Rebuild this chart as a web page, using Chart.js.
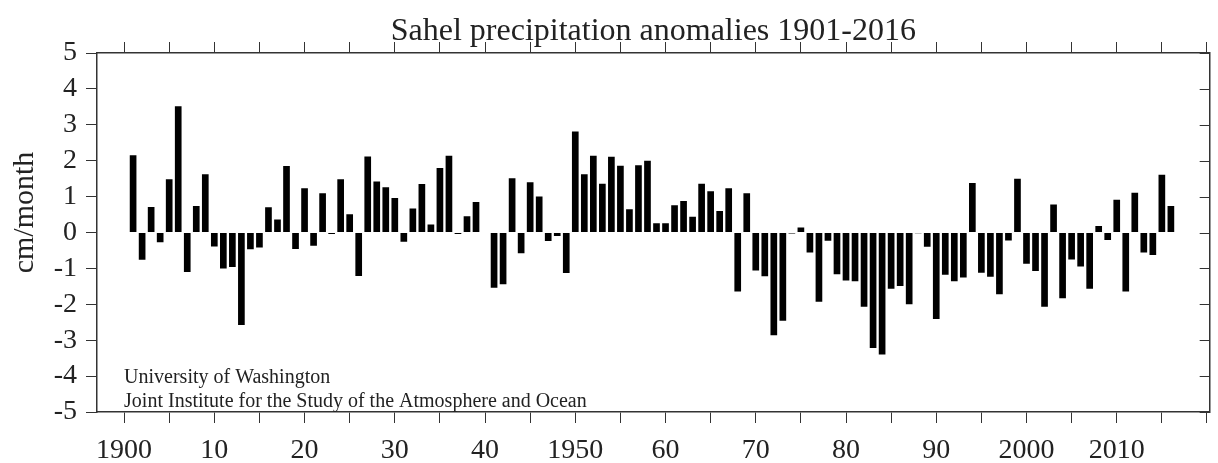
<!DOCTYPE html>
<html>
<head>
<meta charset="utf-8">
<script src="https://cdn.jsdelivr.net/npm/chart.js@4"></script>
<style>
  html, body { margin: 0; padding: 0; background: #fff; }
  #wrap { width: 1218px; height: 463px; }
</style>
</head>
<body>
<div id="wrap"><canvas id="canvasSahel"></canvas></div>
<script>
var titulo = 'Sahel precipitation anomalies 1901-2016';
var creditos = ['University of Washington', 'Joint Institute for the Study of the Atmosphere and Ocean'];
var tituloEjeY = 'cm/month';

// one value per year, 1901 .. 2016 (cm/month)
var anioInicio = 1901;
var anomalias = [
    2.15, -0.76, 0.71, -0.27, 1.48, 3.52, -1.10, 0.74, 1.62, -0.39,
    -1.00, -0.96, -2.58, -0.47, -0.42, 0.70, 0.36, 1.85, -0.46, 1.23,
    -0.37, 1.09, -0.04, 1.48, 0.51, -1.21, 2.12, 1.42, 1.26, 0.96,
    -0.26, 0.67, 1.35, 0.22, 1.80, 2.14, -0.04, 0.45, 0.85, 0.00,
    -1.54, -1.44, 1.51, -0.58, 1.40, 1.00, -0.24, -0.10, -1.13, 2.81,
    1.62, 2.14, 1.36, 2.11, 1.86, 0.65, 1.87, 2.00, 0.26, 0.26,
    0.76, 0.88, 0.44, 1.36, 1.15, 0.60, 1.23, -1.64, 1.09, -1.06,
    -1.22, -2.86, -2.46, -0.03, 0.14, -0.56, -1.93, -0.23, -1.16, -1.34,
    -1.36, -2.07, -3.22, -3.40, -1.57, -1.49, -2.00, -0.02, -0.40, -2.41,
    -1.18, -1.36, -1.25, 1.38, -1.12, -1.23, -1.72, -0.22, 1.50, -0.87,
    -1.07, -2.07, 0.78, -1.83, -0.75, -0.95, -1.57, 0.18, -0.21, 0.91,
    -1.64, 1.11, -0.56, -0.63, 1.61, 0.74
];

var decadas = [1900, 1910, 1920, 1930, 1940, 1950, 1960, 1970, 1980, 1990, 2000, 2010];
var etiquetasDecadas = ['1900', '10', '20', '30', '40', '1950', '60', '70', '80', '90', '2000', '2010'];
var ejeXMin = 1897;
var ejeXMax = 2020.3;

var puntos = [];
for (let i = 0; i < anomalias.length; i++) {
    puntos = [...puntos, { x: anioInicio + i, y: anomalias[i] }];
}

var fuente = '"Liberation Serif", "Times New Roman", serif';
var colorTexto = '#222';
var colorEje = '#333';

// title, y title, credit lines and the inward ticks of the right frame
var textosExtra = {
    id: 'textosExtra',
    afterDraw: function (chart) {
        var ctx = chart.ctx;
        var area = chart.chartArea;
        var sx = chart.scales.x;
        var sy = chart.scales.y;
        ctx.save();
        ctx.fillStyle = colorTexto;
        ctx.font = '32px ' + fuente;
        ctx.textAlign = 'center';
        ctx.textBaseline = 'alphabetic';
        ctx.fillText(titulo, (area.left + area.right) / 2, area.top - 13);

        ctx.save();
        ctx.translate(25, (area.top + area.bottom) / 2 - 20);
        ctx.rotate(-Math.PI / 2);
        ctx.textBaseline = 'middle';
        ctx.font = '30px ' + fuente;
        ctx.fillText(tituloEjeY, 0, 0);
        ctx.restore();

        ctx.font = '20px ' + fuente;
        ctx.textAlign = 'left';
        ctx.textBaseline = 'middle';
        ctx.fillText(creditos[0], sx.getPixelForValue(1900), sy.getPixelForValue(-4.05));
        ctx.fillText(creditos[1], sx.getPixelForValue(1900), sy.getPixelForValue(-4.72));

        ctx.strokeStyle = colorEje;
        ctx.lineWidth = 1;
        sy.ticks.forEach(function (t) {
            var py = Math.round(sy.getPixelForValue(t.value)) + 0.5;
            ctx.beginPath();
            ctx.moveTo(area.right - 10, py);
            ctx.lineTo(area.right, py);
            ctx.stroke();
        });
        ctx.restore();
    }
};

var ctx = document.getElementById('canvasSahel').getContext('2d');
var chartSahel = new Chart(ctx, {
    type: 'bar',
    data: {
        datasets: [{
            label: 'Sahel precipitation anomalies',
            data: puntos,
            backgroundColor: '#000',
            borderWidth: 0,
            barPercentage: 0.74,
            categoryPercentage: 1.0
        }]
    },
    options: {
        responsive: true,
        maintainAspectRatio: false,
        animation: false,
        layout: { padding: { top: 42, right: 5, left: 0, bottom: 0 } },
        plugins: {
            legend: { display: false },
            tooltip: { enabled: false },
            title: { display: false }
        },
        scales: {
            x: {
                type: 'linear',
                position: 'bottom',
                offset: false,
                min: ejeXMin,
                max: ejeXMax,
                grid: { offset: false, drawOnChartArea: false, drawTicks: true, tickLength: 11, color: colorEje, tickColor: colorEje, tickWidth: 1 },
                border: { display: true, color: colorEje, width: 1.5 },
                ticks: {
                    stepSize: 5,
                    includeBounds: false,
                    autoSkip: false,
                    maxRotation: 0,
                    padding: 11,
                    color: colorTexto,
                    font: { family: fuente, size: 28 },
                    callback: function (value) {
                        var i = decadas.indexOf(value);
                        return i >= 0 ? etiquetasDecadas[i] : '';
                    }
                },
                afterFit: function (scale) { scale.height = 51; }
            },
            x2: {
                type: 'linear',
                position: 'top',
                offset: false,
                min: ejeXMin,
                max: ejeXMax,
                grid: { offset: false, drawOnChartArea: false, drawTicks: true, tickLength: 11, color: colorEje, tickColor: colorEje, tickWidth: 1 },
                border: { display: true, color: colorEje, width: 1.5 },
                ticks: { stepSize: 5, includeBounds: false, display: false },
                afterFit: function (scale) { scale.height = 11; }
            },
            y: {
                min: -5,
                max: 5,
                grid: { drawOnChartArea: false, drawTicks: true, tickLength: 11, color: colorEje, tickColor: colorEje, tickWidth: 1 },
                border: { display: true, color: colorEje, width: 1.5 },
                ticks: {
                    stepSize: 1,
                    autoSkip: false,
                    padding: 9,
                    color: colorTexto,
                    font: { family: fuente, size: 28 }
                },
                afterFit: function (scale) { scale.width = 97; }
            },
            y2: {
                position: 'right',
                min: -5,
                max: 5,
                grid: { drawOnChartArea: false, drawTicks: false },
                border: { display: true, color: colorEje, width: 1.5 },
                ticks: { display: false, stepSize: 1 },
                afterFit: function (scale) { scale.width = 0; }
            }
        }
    },
    plugins: [textosExtra]
});
</script>
</body>
</html>
